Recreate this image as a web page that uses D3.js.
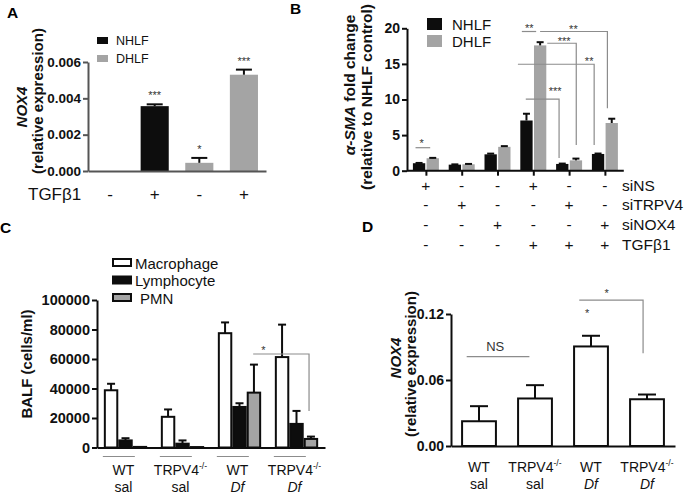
<!DOCTYPE html>
<html>
<head>
<meta charset="utf-8">
<script src="https://cdn.jsdelivr.net/npm/d3@7"></script>
<style>
body { margin: 0; background: #fff; }
svg { font-family: "Liberation Sans", Arial, sans-serif; }
</style>
</head>
<body>
<svg id="fig" width="685" height="495"></svg>
<script>
// ---- panel A: NOX4 in NHLF / DHLF, +/- TGFb1
const aCell = ["NHLF", "NHLF", "DHLF", "DHLF"];
const aTgf = ["-", "+", "-", "+"];
const aMean = [0, 0.00357, 0.00045, 0.0053];
const aSem = [0, 0.0001, 0.00027, 0.00028];
const aStars = ["", "***", "*", "***"];
const aTicks = [0, 0.002, 0.004, 0.006];

// ---- panel B: a-SMA fold change
const bSeries = ["NHLF", "DHLF"];
const bNhlf = [1.05, 0.85, 2.3, 7.05, 0.95, 2.35];
const bNhlfSem = [0.04, 0.04, 0.1, 0.95, 0.05, 0.06];
const bDhlf = [1.75, 0.9, 3.35, 17.6, 1.45, 6.7];
const bDhlfSem = [0.05, 0.05, 0.1, 0.45, 0.25, 0.6];
const bTicks = [0, 5, 10, 15, 20];
const bRowLabels = ["siNS", "siTRPV4", "siNOX4", "TGFβ1"];
const bRowMarks = [
  ["+", "-", "-", "+", "-", "-"],
  ["-", "+", "-", "-", "+", "-"],
  ["-", "-", "+", "-", "-", "+"],
  ["-", "-", "-", "+", "+", "+"]
];
// brackets in group units / fold change units
const bSig = [
  {x1: -0.29, x2: 0.12, y: 3.23, label: "*", lx: -0.12, ly: 4.2},
  {x1: 2.68, x2: 3.08, y: 19.55, label: "**", lx: 2.89, ly: 20.4},
  {x1: 3.19, x2: 5.07, y: 19.55, drop: 8.76, label: "**", lx: 4.12, ly: 20.25},
  {x1: 3.39, x2: 4.2, y: 17.9, drop: 3.6, label: "***", lx: 3.86, ly: 18.5},
  {x1: 2.57, x2: 4.7, y: 14.95, drop: 3.6, label: "**", lx: 4.56, ly: 15.8},
  {x1: 2.79, x2: 3.72, y: 10.04, drop: 1.78, label: "***", lx: 3.61, ly: 11.57}
];

// ---- panel C: BALF cells
const cGeno = ["WT", "TRPV4", "WT", "TRPV4"];
const cTreat = ["sal", "sal", "Df", "Df"];
const cCells = ["Macrophage", "Lymphocyte", "PMN"];
const cMac = [38800, 20800, 77500, 61300];
const cMacSem = [4400, 5000, 7300, 22000];
const cLym = [4800, 2600, 27500, 16000];
const cLymSem = [1500, 2200, 2500, 8800];
const cPmn = [400, 300, 37200, 5800];
const cPmnSem = [0, 0, 19000, 1600];
const cTicks = [0, 20000, 40000, 60000, 80000, 100000];
const cSig = [{x1: 2.24, x2: 3.22, y: 63400, drop: 24700, label: "*", lx: 2.42, ly: 68100}];

// ---- panel D: NOX4 in lungs
const dGeno = ["WT", "TRPV4", "WT", "TRPV4"];
const dTreat = ["sal", "sal", "Df", "Df"];
const dMean = [0.0225, 0.0432, 0.0905, 0.0425];
const dSem = [0.0137, 0.0121, 0.0097, 0.0043];
const dTicks = [0, 0.06, 0.12];
const dSig = [
  {x1: -0.22, x2: 0.9, y: 0.0812, label: "NS", lx: 0.29, ly: 0.0909},
  {label: "*", lx: 1.93, ly: 0.1236},
  {x1: 1.79, x2: 2.93, y: 0.1327, drop: 0.0843, label: "*", lx: 2.28, ly: 0.1418}
];

const black = "#0d0d0d";
const gray = "#a4a4a4";
const lineGray = "#8c8c8c";

const svg = d3.select("#fig");

function styleAxis(g, color, size) {
  g.attr("font-family", null).attr("font-size", size).attr("font-weight", "bold");
  g.select(".domain").attr("stroke", color).attr("stroke-width", 2);
  g.selectAll(".tick line").attr("stroke", color).attr("stroke-width", 2);
  g.selectAll(".tick text").attr("fill", "#111");
}

function errorBars(g, xs, y, means, sems, capW) {
  means.forEach((m, i) => {
    if (!sems[i]) return;
    const y0 = y(m), y1 = y(m + sems[i]);
    g.append("line").attr("x1", xs[i]).attr("x2", xs[i]).attr("y1", y0).attr("y2", y1)
      .attr("stroke", black).attr("stroke-width", 2);
    g.append("line").attr("x1", xs[i] - capW / 2).attr("x2", xs[i] + capW / 2).attr("y1", y1).attr("y2", y1)
      .attr("stroke", black).attr("stroke-width", 2);
  });
}

function brackets(g, list, x, y) {
  list.forEach(b => {
    if (b.x1 != null) {
      const pts = [[x(b.x1), y(b.y)], [x(b.x2), y(b.y)]];
      if (b.drop != null) pts.push([x(b.x2), y(b.drop)]);
      g.append("path").attr("d", d3.line()(pts)).attr("fill", "none")
        .attr("stroke", lineGray).attr("stroke-width", 1.2);
    }
    const ns = b.label === "NS";
    g.append("text").attr("x", x(b.lx)).attr("y", y(b.ly) + (ns ? 5 : 6.5))
      .attr("text-anchor", "middle").attr("font-size", ns ? 13 : 11).attr("fill", "#333")
      .text(b.label);
  });
}

function vTitle(g, x, y, size, parts) {
  const t = g.append("text").attr("transform", `translate(${x},${y}) rotate(-90)`)
    .attr("text-anchor", "middle").attr("font-size", size).attr("font-weight", "bold").attr("fill", "#111");
  parts.forEach(p => t.append("tspan").attr("font-style", p.italic ? "italic" : null).text(p.t));
}

function groupLabel(g, x, y, geno, treat, size) {
  const t1 = g.append("text").attr("x", x).attr("y", y).attr("text-anchor", "middle")
    .attr("font-size", size).attr("fill", "#111");
  t1.append("tspan").text(geno);
  if (geno !== "WT") t1.append("tspan").attr("dy", -6).attr("font-size", size * 0.62).text("-/-");
  g.append("text").attr("x", x).attr("y", y + 17).attr("text-anchor", "middle")
    .attr("font-size", size).attr("fill", "#111")
    .attr("font-style", treat === "Df" ? "italic" : null).text(treat);
}

function letter(x, y, s) {
  svg.append("text").attr("x", x).attr("y", y).attr("font-size", 15.5).attr("font-weight", "bold").text(s);
}

// ================= A =================
const gA = svg.append("g");
const aX = d3.scaleBand().domain(d3.range(aMean.length)).range([88, 266]).paddingInner(0.37).paddingOuter(0.18);
const aY = d3.scaleLinear().domain([0, 0.006]).range([171, 62]);
const aC = aMean.map((d, i) => aX(i) + aX.bandwidth() / 2);

gA.selectAll("rect.bar").data(aMean).join("rect").attr("class", "bar")
  .attr("x", (d, i) => aX(i)).attr("width", aX.bandwidth())
  .attr("y", d => aY(d)).attr("height", d => aY(0) - aY(d))
  .attr("fill", (d, i) => aCell[i] === "NHLF" ? black : gray);
errorBars(gA, aC, aY, aMean, aSem, 16);
gA.selectAll("text.star").data(aStars).join("text").attr("class", "star")
  .attr("x", (d, i) => aC[i]).attr("y", (d, i) => aY(aMean[i] + aSem[i]) - 5)
  .attr("text-anchor", "middle").attr("font-size", 11).attr("fill", "#333").text(d => d);

gA.append("g").attr("transform", "translate(88,0)")
  .call(d3.axisLeft(aY).tickValues(aTicks).tickFormat(d3.format(".3f")).tickSize(5).tickSizeOuter(0).tickPadding(2))
  .call(styleAxis, "#555", 13.5);
gA.append("g").attr("transform", "translate(0,171)")
  .call(d3.axisBottom(aX).tickSize(0).tickSizeOuter(0).tickFormat(""))
  .call(styleAxis, "#555", 13.5);

vTitle(gA, 27, 107, 15, [{t: "NOX4", italic: true}]);
vTitle(gA, 43, 101, 15, [{t: "(relative expression)"}]);

["NHLF", "DHLF"].forEach((s, i) => {
  gA.append("rect").attr("x", 97).attr("y", 37 + i * 18).attr("width", 11).attr("height", 7)
    .attr("fill", s === "NHLF" ? black : gray);
  gA.append("text").attr("x", 116).attr("y", 45 + i * 18).attr("font-size", 12.5).attr("fill", "#111").text(s);
});
gA.append("text").attr("x", 28).attr("y", 200).attr("font-size", 17).attr("fill", "#111").text("TGFβ1");
gA.selectAll("text.mark").data(aTgf).join("text").attr("class", "mark")
  .attr("x", (d, i) => aC[i]).attr("y", 200).attr("text-anchor", "middle")
  .attr("font-size", 17).attr("fill", "#111").text(d => d);

// ================= B =================
const gB = svg.append("g");
const bX0 = d3.scaleBand().domain(d3.range(bNhlf.length)).range([407, 623.8]).paddingInner(0.274).paddingOuter(0.165);
const bX1 = d3.scaleBand().domain(bSeries).range([0, bX0.bandwidth()]).paddingInner(0.1);
const bY = d3.scaleLinear().domain([0, 20]).range([170.7, 28.3]);
const bG = d3.scaleLinear().domain([0, 5]).range([bX0(0) + bX0.bandwidth() / 2, bX0(5) + bX0.bandwidth() / 2]);

[[bNhlf, bNhlfSem, "NHLF"], [bDhlf, bDhlfSem, "DHLF"]].forEach(([vals, sems, s]) => {
  gB.selectAll(null).data(vals).join("rect")
    .attr("x", (d, i) => bX0(i) + bX1(s)).attr("width", bX1.bandwidth())
    .attr("y", d => bY(d)).attr("height", d => bY(0) - bY(d))
    .attr("fill", s === "NHLF" ? black : gray);
  errorBars(gB, vals.map((d, i) => bX0(i) + bX1(s) + bX1.bandwidth() / 2), bY, vals, sems, 7);
});
brackets(gB, bSig, bG, bY);

gB.append("g").attr("transform", "translate(407,0)")
  .call(d3.axisLeft(bY).tickValues(bTicks).tickSize(5).tickSizeOuter(0).tickPadding(2))
  .call(styleAxis, black, 14);
gB.append("g").attr("transform", "translate(0,170.7)")
  .call(d3.axisBottom(bG).tickValues(d3.range(6)).tickSize(5).tickSizeOuter(0).tickFormat(""))
  .call(styleAxis, black, 14)
  .call(g => g.select(".domain").attr("d", "M407,0H623.8"));

vTitle(gB, 355, 85, 15.5, [{t: "α-SMA", italic: true}, {t: " fold change"}]);
vTitle(gB, 372, 97, 15.5, [{t: "(relative to NHLF control)"}]);

bSeries.forEach((s, i) => {
  gB.append("rect").attr("x", 427).attr("y", 18 + i * 17).attr("width", 15).attr("height", 12)
    .attr("fill", s === "NHLF" ? black : gray);
  gB.append("text").attr("x", 452).attr("y", 29.5 + i * 17).attr("font-size", 15).attr("fill", "#111").text(s);
});

bRowLabels.forEach((lab, r) => {
  const yy = 190.5 + r * 19.7;
  gB.append("text").attr("x", 622).attr("y", yy).attr("font-size", 15.5).attr("fill", "#111").text(lab);
  gB.selectAll(null).data(bRowMarks[r]).join("text")
    .attr("x", (d, i) => bG(i)).attr("y", yy).attr("text-anchor", "middle")
    .attr("font-size", 15.5).attr("fill", "#111").text(d => d);
});

// ================= C =================
const gC = svg.append("g");
const cX0 = d3.scaleBand().domain(d3.range(cMac.length)).range([97, 325]).paddingInner(0.24).paddingOuter(0.12);
const cX1 = d3.scaleBand().domain(cCells).range([0, cX0.bandwidth()]);
const cY = d3.scaleLinear().domain([0, 100000]).range([447.5, 300]);
const cG = d3.scaleLinear().domain([0, 3]).range([cX0(0) + cX0.bandwidth() / 2, cX0(3) + cX0.bandwidth() / 2]);
const cFill = {Macrophage: "#fff", Lymphocyte: black, PMN: gray};

[[cMac, cMacSem, "Macrophage"], [cLym, cLymSem, "Lymphocyte"], [cPmn, cPmnSem, "PMN"]].forEach(([vals, sems, s]) => {
  const xs = vals.map((d, i) => cX0(i) + cX1(s) + cX1.bandwidth() / 2);
  errorBars(gC, xs, cY, vals, sems, 8);
  gC.selectAll(null).data(vals).join("rect")
    .attr("x", (d, i) => cX0(i) + cX1(s) + 1).attr("width", cX1.bandwidth() - 2)
    .attr("y", d => cY(d)).attr("height", d => cY(0) - cY(d))
    .attr("fill", cFill[s]).attr("stroke", black).attr("stroke-width", 2);
});
brackets(gC, cSig, cG, cY);

gC.append("g").attr("transform", "translate(97,0)")
  .call(d3.axisLeft(cY).tickValues(cTicks).tickFormat(d3.format("d")).tickSize(5).tickSizeOuter(0).tickPadding(2))
  .call(styleAxis, black, 14.5);
gC.append("g").attr("transform", "translate(0,447.5)")
  .call(d3.axisBottom(cX0).tickSize(0).tickSizeOuter(0).tickFormat(""))
  .call(styleAxis, black, 14.5);

vTitle(gC, 32, 364, 15, [{t: "BALF (cells/ml)"}]);

cCells.forEach((s, i) => {
  gC.append("rect").attr("x", 113).attr("y", 259 + i * 17.5).attr("width", 18).attr("height", 7)
    .attr("fill", cFill[s]).attr("stroke", black).attr("stroke-width", 2);
  gC.append("text").attr("x", s === "PMN" ? 140 : 135).attr("y", 268.5 + i * 17.5)
    .attr("font-size", 15).attr("fill", "#111").text(s);
});

cGeno.forEach((g, i) => {
  gC.append("line").attr("x1", cX0(i) - 1).attr("x2", cX0(i) + 31).attr("y1", 456.5).attr("y2", 456.5)
    .attr("stroke", lineGray).attr("stroke-width", 1.2);
  groupLabel(gC, cG(i) - 2, 474.5, g, cTreat[i], 14);
});

// ================= D =================
const gD = svg.append("g");
const dX = d3.scaleBand().domain(d3.range(dMean.length)).range([451, 675]).paddingInner(0.36).paddingOuter(0.18);
const dY = d3.scaleLinear().domain([0, 0.12]).range([446, 314]);
const dG = d3.scaleLinear().domain([0, 3]).range([dX(0) + dX.bandwidth() / 2, dX(3) + dX.bandwidth() / 2]);

errorBars(gD, dMean.map((d, i) => dG(i)), dY, dMean, dSem, 18);
gD.selectAll("rect").data(dMean).join("rect")
  .attr("x", (d, i) => dX(i) + 1).attr("width", dX.bandwidth() - 2)
  .attr("y", d => dY(d)).attr("height", d => dY(0) - dY(d))
  .attr("fill", "#fff").attr("stroke", black).attr("stroke-width", 2);
brackets(gD, dSig, dG, dY);

gD.append("g").attr("transform", "translate(451,0)")
  .call(d3.axisLeft(dY).tickValues(dTicks).tickFormat(d3.format(".2f")).tickSize(5).tickSizeOuter(0).tickPadding(2))
  .call(styleAxis, black, 14);
gD.append("g").attr("transform", "translate(0,446)")
  .call(d3.axisBottom(dX).tickSize(0).tickSizeOuter(0).tickFormat(""))
  .call(styleAxis, black, 14);

vTitle(gD, 401, 358, 15, [{t: "NOX4", italic: true}]);
vTitle(gD, 416, 364, 15, [{t: "(relative expression)"}]);

dGeno.forEach((g, i) => groupLabel(gD, dG(i), 472, g, dTreat[i], 14));

letter(7, 18, "A");
letter(290, 14, "B");
letter(0, 233, "C");
letter(362, 232, "D");
</script>
</body>
</html>
